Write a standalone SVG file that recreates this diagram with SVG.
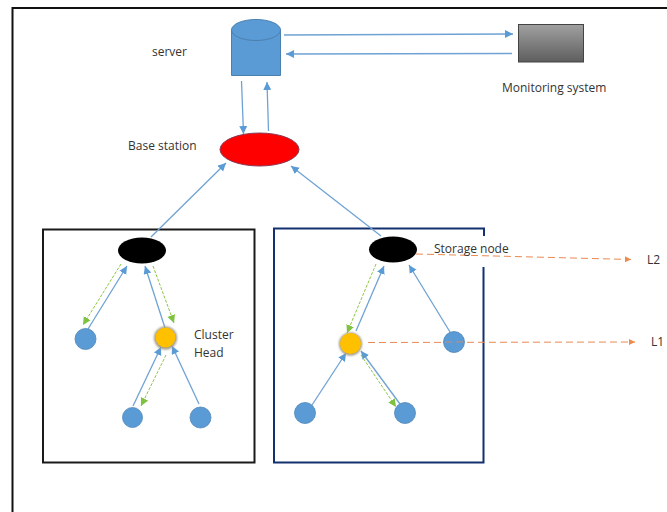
<svg xmlns="http://www.w3.org/2000/svg" width="667" height="512" viewBox="0 0 667 512">
<defs>
<linearGradient id="grey" x1="0" y1="0" x2="0" y2="1"><stop offset="0" stop-color="#a0a0a0"/><stop offset="1" stop-color="#5e5e5e"/></linearGradient>
<marker id="ab" markerUnits="userSpaceOnUse" markerWidth="9" markerHeight="9" refX="8" refY="4" orient="auto"><path d="M0,0L8,4L0,8Z" fill="#5b9bd5"/></marker>
<marker id="ag" markerUnits="userSpaceOnUse" markerWidth="9" markerHeight="9" refX="8" refY="4" orient="auto"><path d="M0,0L8,4L0,8Z" fill="#7fc241"/></marker>
<marker id="ao" markerUnits="userSpaceOnUse" markerWidth="7" markerHeight="7" refX="6" refY="3" orient="auto"><path d="M0,0L6,3L0,6Z" fill="#ed8b4c"/></marker>
<filter id="glow" x="-30%" y="-30%" width="160%" height="160%"><feGaussianBlur stdDeviation="0.8"/></filter>
</defs>
<style>
text{font-family:"Open Sans","Noto Sans","Liberation Sans",sans-serif;font-size:12px;fill:#333}
.b{stroke:#6fa3d4;stroke-width:1.3;fill:none;marker-end:url(#ab)}
.g{stroke:#8cc63f;stroke-width:1;stroke-dasharray:3 1.5;fill:none;marker-end:url(#ag)}
.o{stroke:#e98a52;stroke-width:1;stroke-dasharray:7 4;fill:none;marker-end:url(#ao)}
.leaf{fill:#5b9bd5;stroke:#4f86b8;stroke-width:.8}
.head{fill:#ffc000}
.halo{fill:#a09a88;filter:url(#glow)}
.sink{fill:#000}
</style>
<rect width="667" height="512" fill="#fff"/>
<path d="M12.500,512V8H667" fill="none" stroke="#111" stroke-width="2"/>
<rect id="cluster-left" x="43" y="229.500" width="211.500" height="233" fill="none" stroke="#1a1a1a" stroke-width="2"/>
<path id="cluster-right" d="M484,236V228.500H274V462.500H483.500V267" fill="none" stroke="#14306e" stroke-width="2"/>
<g id="connectors">
<path class="b" d="M284,35L513,34"/>
<path class="b" d="M512,53.500L286,54"/>
<path class="b" d="M241.500,81L243.500,134"/>
<path class="b" d="M268.500,131L267,82"/>
<path class="b" d="M151,237L226,163"/>
<path class="b" d="M381,236L291,166"/>
<path class="g" d="M121,264L83,325"/>
<path class="b" d="M88,329L127,266"/>
<path class="b" d="M165,328L145,266"/>
<path class="g" d="M153,266L174,323"/>
<path class="b" d="M133,406L161,347"/>
<path class="g" d="M166,355L141,406"/>
<path class="b" d="M199,404L172,346"/>
<path class="g" d="M376,264L347,333"/>
<path class="b" d="M356,331L384,266"/>
<path class="b" d="M450,332L409,265"/>
<path class="b" d="M312,405L346,353"/>
<path class="b" d="M400,404L361,351"/>
<path class="g" d="M361,355L396,407"/>
<path class="o" d="M416,254L631,259.500"/>
<path class="o" d="M368,342.500L635,342"/>
</g>
<g id="server">
<path d="M231.500,30V75.500H280.500V30" fill="#5b9bd5" stroke="#4a80b0"/>
<ellipse cx="256" cy="30" rx="24.500" ry="10.500" fill="#5b9bd5" stroke="#4a80b0"/>
<text x="152" y="56">server</text>
</g>
<g id="monitoring-system">
<rect x="518.500" y="24.500" width="65" height="37.500" fill="url(#grey)" stroke="#444"/>
<text x="502" y="92">Monitoring system</text>
</g>
<g id="base-station">
<ellipse cx="259.500" cy="149.500" rx="39.500" ry="16.500" fill="#f00" stroke="#8a3a55"/>
<text x="128" y="150">Base station</text>
</g>
<g id="sink-left"><ellipse class="sink" cx="142" cy="250.500" rx="24" ry="13"/></g>
<g id="sink-right"><ellipse class="sink" cx="393" cy="249.500" rx="24" ry="13"/><text x="434" y="253">Storage node</text></g>
<g id="node-l1"><circle class="leaf" cx="85.500" cy="339" r="10.500"/></g>
<g id="head-left"><circle class="halo" cx="165.500" cy="338" r="11.500"/><circle class="head" cx="165.500" cy="337.500" r="10"/><text x="194" y="339">Cluster</text><text x="194" y="357">Head</text></g>
<g id="node-l2"><circle class="leaf" cx="132.500" cy="417.500" r="10"/></g>
<g id="node-l3"><circle class="leaf" cx="200.500" cy="417.500" r="10.500"/></g>
<g id="head-right"><circle class="halo" cx="350.500" cy="344" r="11.500"/><circle class="head" cx="350.500" cy="343.500" r="10.500"/></g>
<g id="node-r1"><circle class="leaf" cx="454" cy="342" r="10.500"/></g>
<g id="node-r2"><circle class="leaf" cx="305" cy="413" r="10.500"/></g>
<g id="node-r3"><circle class="leaf" cx="405" cy="413" r="10.500"/></g>
<path class="o" d="M445,342L463,342" style="marker-end:none" opacity=".7"/>
<text x="647" y="264">L2</text>
<text x="651" y="346">L1</text>
</svg>
